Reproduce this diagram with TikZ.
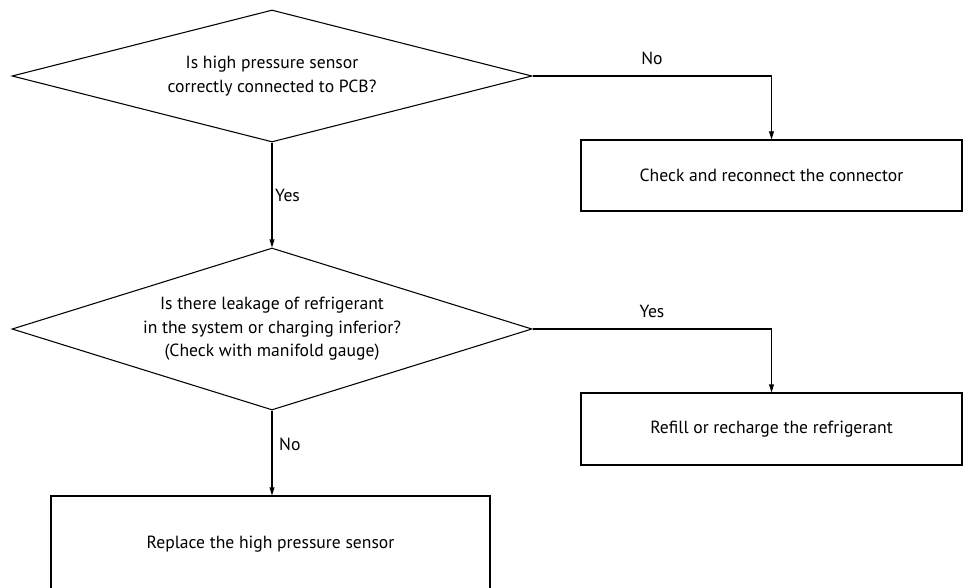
\documentclass[tikz,border=0pt]{standalone}
\usepackage{fontspec}
\setmainfont{PT Sans}
\usepackage{tikz}
\usetikzlibrary{arrows.meta}
\usetikzlibrary{shapes.geometric, positioning, calc}

\begin{document}
\begin{tikzpicture}[x=0.75pt, y=-0.75pt, line width=0.8pt,
    every node/.style={font=\fontsize{13.2}{17.6}\selectfont, inner sep=0pt},
    decision/.style={diamond, draw, align=center},
    action/.style={rectangle, draw, align=center, minimum width=381*0.75pt},
    flow/.style={-{Triangle[length=6pt, width=3.6pt]}}]
    \useasboundingbox (0,0) rectangle (963,588);

    \node[decision, minimum width=520*0.75pt, minimum height=132*0.75pt, aspect=3.9] (d1) at (272,76)
        {Is high pressure sensor\\correctly connected to PCB?};
    \node[action, minimum height=71*0.75pt] (chk) at (771.5,175.5) {Check and reconnect the connector};
    \node[decision, minimum width=520*0.75pt, minimum height=162*0.75pt, aspect=3.2] (d2) at (272,329)
        {Is there leakage of refrigerant\\in the system or charging inferior?\\(Check with manifold gauge)};
    \node[action, minimum height=72*0.75pt] (refill) at (771.5,429) {Refill or recharge the refrigerant};
    \node[action, minimum width=439*0.75pt, minimum height=96*0.75pt] (rep) at (270.5,544) {Replace the high pressure sensor};

    \draw[flow] (d1.east) -| (chk.north) node[pos=0.25, above=8pt] {No};
    \draw[flow] (d1.south) -- (d2.north) node[midway, right=2pt] {Yes};
    \draw[flow] (d2.east) -| (refill.north) node[pos=0.25, above=8pt] {Yes};
    \draw[flow] (d2.south) -- (d2.south |- rep.north) node[pos=0.4, right=5pt] {No};
\end{tikzpicture}
\end{document}
